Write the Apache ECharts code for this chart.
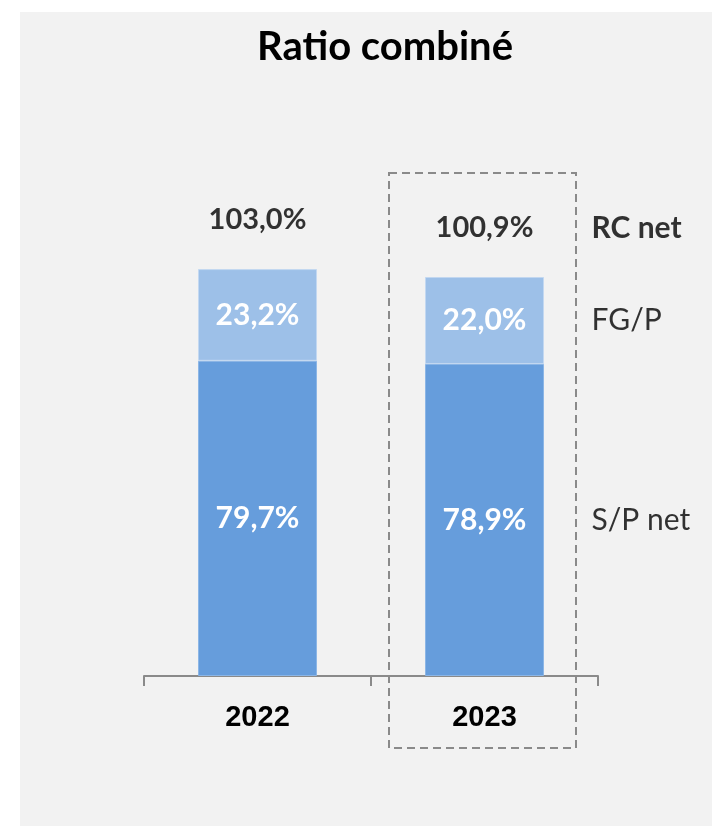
<!DOCTYPE html>
<html>
<head>
<meta charset="utf-8">
<script src="https://cdn.jsdelivr.net/npm/echarts@6/dist/echarts.min.js"></script>
<style>
html,body{margin:0;padding:0;background:#fff;overflow:hidden;}
#bg{position:absolute;left:20px;top:12px;width:692px;height:814px;background:#f2f2f2;}
#c{position:absolute;left:0;top:0;width:712px;height:826px;}
</style>
</head>
<body>
<div id="bg"></div>
<div id="c"></div>
<script>
const categories = ['2022', '2023'];
const spNet = [79.7, 78.9];
const fgP = [23.2, 22.0];
const rcNet = [103.0, 100.9];
const fmt = v => v.toFixed(1).replace('.', ',') + '%';

const gothic = 'Lato, "Open Sans", sans-serif';
const chart = echarts.init(document.getElementById('c'), null, {renderer: 'canvas'});

const lastIdx = categories.length - 1;
const sideLabels = [
  {name: 'RC net', value: rcNet[lastIdx], bold: true, dy: -49},
  {name: 'FG/P', value: spNet[lastIdx] + fgP[lastIdx] / 2, bold: false, dy: 0},
  {name: 'S/P net', value: spNet[lastIdx] / 2, bold: false, dy: 0}
];

chart.setOption({
  backgroundColor: 'transparent',
  animation: false,
  title: {
    text: 'Ratio combiné',
    left: 380, top: 22, textAlign: 'center',
    textStyle: {fontFamily: gothic, fontWeight: 'bold', fontSize: 40, color: '#000'}
  },
  grid: {left: 144, right: 114, bottom: 150, top: 241},
  xAxis: {
    type: 'category',
    data: categories,
    axisLine: {lineStyle: {color: '#8a8a8a', width: 2}},
    axisTick: {show: true, inside: false, length: 10, lineStyle: {color: '#8a8a8a', width: 2}},
    axisLabel: {
      margin: 27, fontFamily: '"Liberation Sans", Arial, sans-serif', fontWeight: 'bold',
      fontSize: 29, color: '#000'
    }
  },
  yAxis: {type: 'value', min: 0, max: 110, show: false, splitLine: {show: false}},
  series: [
    {
      name: 'S/P net', type: 'bar', stack: 'rc', barWidth: 119, data: spNet,
      itemStyle: {color: '#669ddc', borderColor: '#8cb6e6', borderWidth: 1},
      label: {show: true, position: 'inside', formatter: p => fmt(p.value),
        fontFamily: gothic, fontWeight: 'bold', fontSize: 30, color: '#fff'}
    },
    {
      name: 'FG/P', type: 'bar', stack: 'rc', barWidth: 119, data: fgP,
      itemStyle: {color: '#9dc0e8', borderColor: '#c3d8f1', borderWidth: 1},
      label: {show: true, position: 'inside', formatter: p => fmt(p.value),
        fontFamily: gothic, fontWeight: 'bold', fontSize: 30, color: '#fff'}
    },
    {
      name: 'RC net', type: 'scatter', symbolSize: 0, data: rcNet, z: 5,
      label: {show: true, position: 'inside', offset: [0, -49], formatter: p => fmt(p.value),
        fontFamily: gothic, fontWeight: 'bold', fontSize: 29, color: '#000'}
    },
    {
      name: 'side', type: 'scatter', symbolSize: 0, z: 5,
      data: sideLabels.map(s => ({
        value: [categories[lastIdx], s.value], name: s.name,
        label: {fontWeight: s.bold ? 'bold' : 'normal', offset: [107, s.dy]}
      })),
      label: {show: true, position: 'inside', align: 'left', formatter: p => p.name,
        fontFamily: gothic, fontSize: 30, color: '#000'}
    }
  ],
  graphic: [
    {
      type: 'rect', z: 10, silent: true,
      shape: {x: 389, y: 173, width: 187, height: 575},
      style: {fill: 'none', stroke: '#8a8a8a', lineWidth: 2, lineDash: [8, 5]}
    }
  ]
});
</script>
</body>
</html>
